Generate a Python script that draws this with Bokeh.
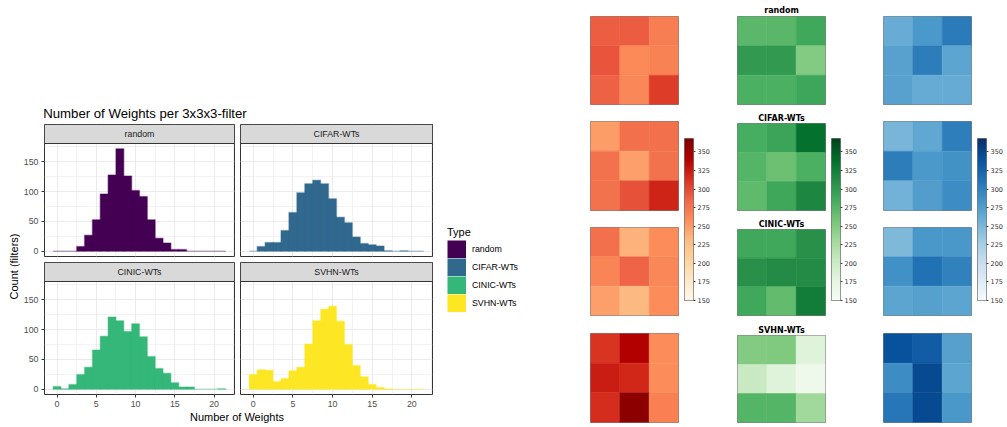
import numpy as np
from bokeh.plotting import figure
from bokeh.layouts import row, column
from bokeh.models import (Range1d, FixedTicker, ColumnDataSource, LinearColorMapper,
                          Legend, LegendItem, Spacer)
from bokeh.core.properties import value
from bokeh.embed import file_html
from bokeh.resources import INLINE
from bokeh.palettes import OrRd9, Greens9, Blues9

# ---------------- data ----------------
types = ["random", "CIFAR-WTs", "CINIC-WTs", "SVHN-WTs"]
type_colors = ["#440154", "#31688E", "#35B779", "#FDE725"]
bin_centers = list(range(22))
random_counts = [0, 0, 0, 8, 27, 53, 96, 128, 172, 126, 102, 92, 53, 22, 14, 3, 3, 0, 0, 0, 0, 0]
cifar_counts = [0, 8, 15, 15, 35, 65, 98, 113, 119, 113, 88, 57, 48, 24, 13, 11, 9, 1, 0, 1, 0, 0]
cinic_counts = [5, 1, 8, 25, 37, 66, 89, 121, 115, 97, 110, 88, 55, 35, 27, 11, 4, 4, 0, 0, 0, 1]
svhn_counts = [25, 33, 32, 13, 18, 31, 37, 76, 115, 134, 139, 114, 75, 40, 21, 8, 3, 1, 0, 0, 0, 0]
x_ticks = [0, 5, 10, 15, 20]
x_minor = [2.5, 7.5, 12.5, 17.5, 22.5]
y_ticks = [0, 50, 100, 150]
y_minor = [25, 75, 125, 175]

# 3x3 heatmaps (rows top->bottom), channel R / G / B
random_R = [[290, 291, 270], [294, 261, 266], [288, 263, 307]]
random_G = [[272, 273, 288], [300, 300, 250], [281, 281, 290]]
random_B = [[261, 280, 305], [271, 304, 268], [271, 262, 262]]
cifar_R = [[250, 279, 279], [277, 248, 277], [277, 296, 320]]
cifar_G = [[283, 292, 337], [276, 263, 281], [270, 289, 318]]
cifar_B = [[252, 266, 303], [304, 280, 286], [255, 276, 290]]
cinic_R = [[279, 237, 259], [265, 287, 263], [248, 233, 259]]
cinic_G = [[288, 288, 309], [309, 313, 313], [288, 268, 327]]
cinic_B = [[248, 281, 281], [287, 313, 300], [268, 273, 268]]
svhn_R = [[311, 341, 259], [324, 318, 259], [315, 361, 268]]
svhn_G = [[250, 252, 183], [204, 183, 163], [276, 276, 232]]
svhn_B = [[340, 331, 272], [290, 346, 268], [309, 346, 281]]
cbar_ticks = [150, 175, 200, 225, 250, 275, 300, 325, 350]
cmap_low, cmap_high = 150, 368

# ---------------- style ----------------
FONT = "Liberation Sans"
MFONT = "DejaVu Sans"
X0, X1 = -1.6, 22.6
Y0, Y1 = -8.6, 180.6
STRIP = 31.8
NAN = float("nan")


def hist_panel(name, counts, color, left_axis, bottom_axis, width, height, mbl, mbr, mbt, mbb):
    p = figure(width=width, height=height, x_range=Range1d(X0, X1), y_range=Range1d(Y0, Y1 + STRIP),
               output_backend="svg", toolbar_location=None,
               x_axis_location="below" if bottom_axis else None,
               y_axis_location="left" if left_axis else None,
               min_border_left=mbl, min_border_right=mbr, min_border_top=mbt, min_border_bottom=mbb)
    p.xgrid.ticker = FixedTicker(ticks=x_ticks, minor_ticks=x_minor)
    p.ygrid.ticker = FixedTicker(ticks=y_ticks, minor_ticks=y_minor)
    for g in (p.xgrid, p.ygrid):
        g.grid_line_color = "#EBEBEB"
        g.grid_line_width = 1
        g.minor_grid_line_color = "#EBEBEB"
        g.minor_grid_line_width = 0.6
    for ax in p.axis:
        ax.axis_line_color = None
        ax.major_tick_line_color = "#333333"
        ax.major_tick_out = 3
        ax.major_tick_in = 0
        ax.minor_tick_line_color = None
        ax.major_label_text_font = FONT
        ax.major_label_text_font_size = "8.8px"
        ax.major_label_text_color = "#4D4D4D"
        ax.major_label_standoff = 3
    if bottom_axis:
        p.xaxis.ticker = FixedTicker(ticks=x_ticks)
    if left_axis:
        p.yaxis.ticker = FixedTicker(ticks=y_ticks)
    # filled histogram body as one stepped area (no seams), then light bar outlines
    edges = [b - 0.5 for b in bin_centers] + [bin_centers[-1] + 0.5]
    p.varea_step(x=edges, y1=[0] * len(edges), y2=list(counts) + [counts[-1]],
                 step_mode="after", fill_color=color)
    src = ColumnDataSource(dict(left=[b - 0.5 for b in bin_centers],
                                right=[b + 0.5 for b in bin_centers],
                                top=counts))
    p.quad(left="left", right="right", bottom=0, top="top", source=src,
           fill_color=None, line_color=color, line_alpha=0.35, line_width=1.5)
    p.quad(left=[X0], right=[X1], bottom=[Y1], top=[Y1 + STRIP],
           fill_color="#D9D9D9", line_color="#333333", line_width=1)
    p.text(x=[(X0 + X1) / 2], y=[Y1 + STRIP / 2], text=[name], text_align="center",
           text_baseline="middle", text_font=value(FONT), text_font_size="8.8px",
           text_color="#1A1A1A")
    p.outline_line_color = "#333333"
    p.outline_line_width = 1
    return p


def blank(width, height, xr, yr):
    p = figure(width=width, height=height, x_range=Range1d(*xr), y_range=Range1d(*yr),
               output_backend="svg", toolbar_location=None, x_axis_location=None,
               y_axis_location=None, min_border=0)
    p.min_border_left = p.min_border_right = p.min_border_top = p.min_border_bottom = 0
    p.xgrid.visible = False
    p.ygrid.visible = False
    p.outline_line_color = None
    return p


all_counts = [random_counts, cifar_counts, cinic_counts, svhn_counts]
p1 = hist_panel(types[0], all_counts[0], type_colors[0], True, False, 216, 138, 23, 2, 1, 5)
p2 = hist_panel(types[1], all_counts[1], type_colors[1], False, False, 199, 138, 4, 3, 1, 5)
p3 = hist_panel(types[2], all_counts[2], type_colors[2], True, True, 216, 149, 23, 2, 1, 16)
p4 = hist_panel(types[3], all_counts[3], type_colors[3], False, True, 199, 149, 4, 3, 1, 16)

title_fig = blank(415, 123, (0, 415), (123, 0))
title_fig.text(x=[22.7], y=[113], text=["Number of Weights per 3x3x3-filter"],
               text_align="left", text_baseline="middle", text_font=value(FONT),
               text_font_size="13.2px", text_color="#000000")
xlab_fig = blank(415, 17, (0, 415), (17, 0))
xlab_fig.text(x=[216.5], y=[6.5], text=["Number of Weights"], text_align="center",
              text_baseline="middle", text_font=value(FONT), text_font_size="11px",
              text_color="#000000")
ylab_fig = blank(20, 427, (0, 20), (427, 0))
ylab_fig.text(x=[13.5], y=[266], text=["Count (filters)"], angle=np.pi / 2, text_align="center",
              text_baseline="middle", text_font=value(FONT), text_font_size="11px",
              text_color="#000000")

legend_fig = blank(140, 427, (0, 140), (0, 427))
items = []
for t, c in zip(types, type_colors):
    r = legend_fig.line(x=[NAN], y=[NAN], line_color=c, line_width=18)
    items.append(LegendItem(label=t, renderers=[r]))
leg = Legend(items=items, location=(12, 115), title="Type", glyph_width=19, glyph_height=18,
             spacing=0, label_standoff=6, padding=0, margin=0, border_line_color=None,
             background_fill_alpha=0, label_text_font=FONT, label_text_font_size="8.8px",
             label_text_color="#000000", title_text_font=FONT, title_text_font_size="11px",
             title_text_font_style="normal", title_text_color="#000000", title_standoff=2,
             label_height=18)
legend_fig.add_layout(leg)

mid_col = column(title_fig, row(p1, p2), row(p3, p4), xlab_fig)
left_block = row(ylab_fig, mid_col, legend_fig)


# ---------------- heatmaps ----------------
def make_palette(colors9, n=256):
    cols = list(reversed(colors9))
    rgb = np.array([[int(c[i:i + 2], 16) for i in (1, 3, 5)] for c in cols], float)
    pos = np.linspace(0, 1, len(cols))
    t = np.linspace(0, 1, n)
    chans = [np.interp(t, pos, rgb[:, k]) for k in range(3)]
    return ["#%02x%02x%02x" % (int(round(a)), int(round(b)), int(round(c)))
            for a, b, c in zip(*chans)]


palettes = [make_palette(OrRd9), make_palette(Greens9), make_palette(Blues9)]
mappers = [LinearColorMapper(palette=pal, low=cmap_low, high=cmap_high) for pal in palettes]
heat_data = [[random_R, random_G, random_B], [cifar_R, cifar_G, cifar_B],
             [cinic_R, cinic_G, cinic_B], [svhn_R, svhn_G, svhn_B]]

row_geo = [(110, 16, 6), (106, 11, 6), (106, 11, 7), (105, 11, 5)]  # height, top, bottom
col_geo = [(106, 15, 3), (103, 12, 3), (103, 11, 4)]  # width, left, right
cb_geo = [(44, 3, 32), (44, 3, 32), (32, 2, 21)]
title_standoffs = [3, 2, 2, 2]


def heat_fig(M, mapper, w, mbl, mbr, h, mbt, mbb, title=None, standoff=2):
    p = figure(width=w, height=h, x_range=Range1d(-0.5, 2.5), y_range=Range1d(2.5, -0.5),
               output_backend="svg", toolbar_location=None, x_axis_location=None,
               y_axis_location=None, min_border_left=mbl, min_border_right=mbr,
               min_border_top=mbt, min_border_bottom=mbb, title=title)
    p.xgrid.visible = False
    p.ygrid.visible = False
    src = ColumnDataSource(dict(col=[c for r in range(3) for c in range(3)],
                                row=[r for r in range(3) for c in range(3)],
                                v=[M[r][c] for r in range(3) for c in range(3)]))
    p.rect(x="col", y="row", width=1, height=1, source=src,
           fill_color={"field": "v", "transform": mapper},
           line_color={"field": "v", "transform": mapper}, line_width=0.5)
    p.outline_line_color = "#7f7f7f"
    p.outline_line_width = 1
    if title:
        p.title.text_font = MFONT
        p.title.text_font_style = "bold"
        p.title.text_font_size = "8px"
        p.title.align = "center"
        p.title.standoff = standoff
        p.title.text_color = "#000000"
    return p


def cbar_fig(mapper, w, mbl, mbr):
    p = figure(width=w, height=170, x_range=Range1d(0, 1), y_range=Range1d(cmap_low, cmap_high),
               output_backend="svg", toolbar_location=None, x_axis_location=None,
               y_axis_location="right", min_border_left=mbl, min_border_right=mbr,
               min_border_top=4, min_border_bottom=4)
    p.xgrid.visible = False
    p.ygrid.visible = False
    grad = np.linspace(cmap_low, cmap_high, 256).reshape(256, 1)
    p.image(image=[grad], x=0, y=cmap_low, dw=1, dh=cmap_high - cmap_low, color_mapper=mapper)
    ax = p.yaxis[0]
    ax.ticker = FixedTicker(ticks=cbar_ticks)
    ax.axis_line_color = None
    ax.major_tick_line_color = "#444444"
    ax.major_tick_out = 2
    ax.major_tick_in = 0
    ax.minor_tick_line_color = None
    ax.major_label_text_font = MFONT
    ax.major_label_text_font_size = "6.5px"
    ax.major_label_text_color = "#333333"
    ax.major_label_standoff = 2
    p.outline_line_color = "#555555"
    p.outline_line_width = 0.8
    return p


groups = []
for ci in range(3):
    w, mbl, mbr = col_geo[ci]
    figs = []
    for ri in range(4):
        h, mbt, mbb = row_geo[ri]
        title = types[ri] if ci == 1 else None
        figs.append(heat_fig(heat_data[ri][ci], mappers[ci], w, mbl, mbr, h, mbt, mbb,
                             title, title_standoffs[ri]))
    cw, cl, cr = cb_geo[ci]
    cb = cbar_fig(mappers[ci], cw, cl, cr)
    cb_col = column(Spacer(width=cw, height=134), cb, Spacer(width=cw, height=123))
    groups.append(column(*figs))
    groups.append(cb_col)

right_block = row(*groups)
root = row(left_block, right_block)

open("out.html", "w").write(file_html(root, INLINE))
